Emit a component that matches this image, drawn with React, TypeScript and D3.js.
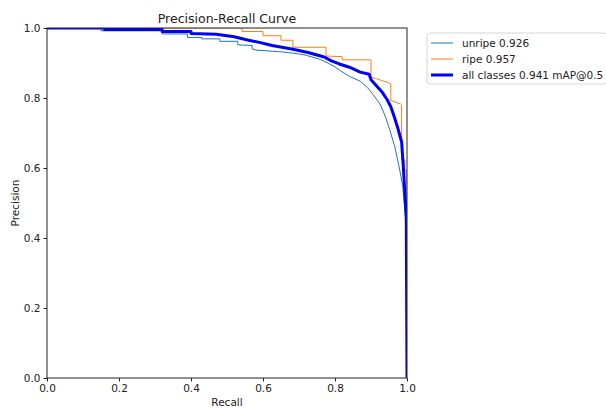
import React, { useEffect, useRef } from "react";
import * as d3 from "d3";

const W = 606;
const H = 408;

const TITLE = "Precision-Recall Curve";
const X_LABEL = "Recall";
const Y_LABEL = "Precision";
const TICKS = [0, 0.2, 0.4, 0.6, 0.8, 1.0];

const SERIES_NAMES = ["unripe 0.926", "ripe 0.957", "all classes 0.941 mAP@0.5"];

// [recall, precision]
const unripe: [number, number][] = [
  [0, 1], [0.15, 1], [0.15, 0.992], [0.32, 0.992], [0.32, 0.983], [0.39, 0.983],
  [0.39, 0.973], [0.43, 0.973], [0.43, 0.969], [0.48, 0.969], [0.48, 0.962],
  [0.53, 0.962], [0.53, 0.952], [0.57, 0.95], [0.57, 0.94], [0.58, 0.937],
  [0.65, 0.932], [0.7, 0.926], [0.72, 0.922], [0.76, 0.91], [0.78, 0.9],
  [0.8, 0.889], [0.815, 0.878], [0.84, 0.862], [0.87, 0.848], [0.89, 0.83], [0.905, 0.811],
  [0.925, 0.783], [0.94, 0.747], [0.952, 0.709], [0.966, 0.661], [0.978, 0.604],
  [0.988, 0.55], [0.993, 0.49], [0.997, 0.44], [1.0, 0],
];

const ripe: [number, number][] = [
  [0, 1], [0.542, 1], [0.542, 0.99], [0.6, 0.99], [0.6, 0.978], [0.65, 0.978],
  [0.65, 0.965], [0.683, 0.965], [0.683, 0.945], [0.775, 0.945], [0.775, 0.92],
  [0.82, 0.918], [0.82, 0.909], [0.9, 0.909], [0.9, 0.86], [0.915, 0.855],
  [0.93, 0.85], [0.945, 0.845], [0.955, 0.84], [0.955, 0.793], [0.982, 0.783],
  [0.985, 0.78], [0.985, 0.623], [0.994, 0.623], [0.994, 0.594], [0.998, 0.594],
  [0.998, 0.52], [1.0, 0],
];

const allClasses: [number, number][] = [
  [0, 1], [0.16, 1], [0.16, 0.996], [0.32, 0.996], [0.32, 0.99], [0.4, 0.99],
  [0.4, 0.984], [0.47, 0.982], [0.5, 0.978], [0.52, 0.975], [0.54, 0.97],
  [0.56, 0.965], [0.59, 0.959], [0.625, 0.95], [0.68, 0.94], [0.725, 0.93],
  [0.77, 0.917], [0.79, 0.906], [0.81, 0.898], [0.84, 0.888], [0.87, 0.874],
  [0.895, 0.868], [0.9, 0.852], [0.915, 0.835], [0.93, 0.818], [0.945, 0.795],
  [0.955, 0.775], [0.965, 0.745], [0.975, 0.712], [0.985, 0.675], [0.99, 0.6],
  [0.995, 0.51], [0.998, 0.46], [1.0, 0],
];

const SERIES = [unripe, ripe, allClasses];
const COLORS = ["#1f77b4", "#ff7f0e", "#0000ff"];
const WIDTHS = [1, 1, 3];

const FONT = "DejaVu Sans, sans-serif";

export default function App() {
  const ref = useRef<SVGSVGElement>(null);

  useEffect(() => {
    const svg = d3.select(ref.current);
    svg.selectAll("*").remove();

    const left = 47, right = 407, top = 28, bottom = 378;
    const x = d3.scaleLinear().domain([0, 1]).range([left, right]);
    const y = d3.scaleLinear().domain([0, 1]).range([bottom, top]);

    svg.append("rect").attr("width", W).attr("height", H).attr("fill", "#fff");

    svg.append("defs").append("clipPath").attr("id", "plotclip")
      .append("rect").attr("x", left).attr("y", top)
      .attr("width", right - left).attr("height", bottom - top);

    const line = d3.line<[number, number]>().x((d) => x(d[0])).y((d) => y(d[1]));

    const g = svg.append("g").attr("clip-path", "url(#plotclip)");
    SERIES.forEach((s, i) => {
      g.append("path").attr("d", line(s) as string)
        .attr("fill", "none").attr("stroke", COLORS[i])
        .attr("stroke-width", WIDTHS[i]).attr("stroke-linejoin", "round");
    });

    // frame
    svg.append("rect").attr("x", left).attr("y", top)
      .attr("width", right - left).attr("height", bottom - top)
      .attr("fill", "none").attr("stroke", "#222").attr("stroke-width", 1);

    const xAxis = svg.append("g").attr("transform", `translate(0,${bottom})`)
      .call(d3.axisBottom(x).tickValues(TICKS).tickFormat(d3.format(".1f")).tickSizeOuter(0).tickSize(3.5).tickPadding(3));
    const yAxis = svg.append("g").attr("transform", `translate(${left},0)`)
      .call(d3.axisLeft(y).tickValues(TICKS).tickFormat(d3.format(".1f")).tickSizeOuter(0).tickSize(3.5).tickPadding(3));
    [xAxis, yAxis].forEach((a) => {
      a.select(".domain").remove();
      a.selectAll("line").attr("stroke", "#222");
      a.selectAll("text").attr("font-family", FONT).attr("font-size", 10.5).attr("fill", "#222");
    });

    svg.append("text").attr("x", (left + right) / 2).attr("y", 23)
      .attr("text-anchor", "middle").attr("font-family", FONT).attr("font-size", 12.5)
      .attr("fill", "#222").text(TITLE);
    svg.append("text").attr("x", (left + right) / 2).attr("y", 406)
      .attr("text-anchor", "middle").attr("font-family", FONT).attr("font-size", 10.5)
      .attr("fill", "#222").text(X_LABEL);
    svg.append("text").attr("transform", `translate(19,${(top + bottom) / 2}) rotate(-90)`)
      .attr("text-anchor", "middle").attr("font-family", FONT).attr("font-size", 10.5)
      .attr("fill", "#222").text(Y_LABEL);

    // legend
    const lg = svg.append("g");
    lg.append("rect").attr("x", 427).attr("y", 33).attr("width", 180).attr("height", 51)
      .attr("rx", 3).attr("fill", "#fff").attr("stroke", "#d6d6d6").attr("stroke-width", 1);
    SERIES_NAMES.forEach((name, i) => {
      const cy = 43 + i * 16;
      lg.append("line").attr("x1", 431).attr("x2", 453).attr("y1", cy).attr("y2", cy)
        .attr("stroke", COLORS[i]).attr("stroke-width", WIDTHS[i]);
      lg.append("text").attr("x", 462).attr("y", cy).attr("dy", "0.35em")
        .attr("font-family", FONT).attr("font-size", 10.5).attr("fill", "#222").text(name);
    });
  }, []);

  return (
    <svg ref={ref} width={W} height={H} style={{ position: "absolute", left: 0, top: 0 }} />
  );
}
